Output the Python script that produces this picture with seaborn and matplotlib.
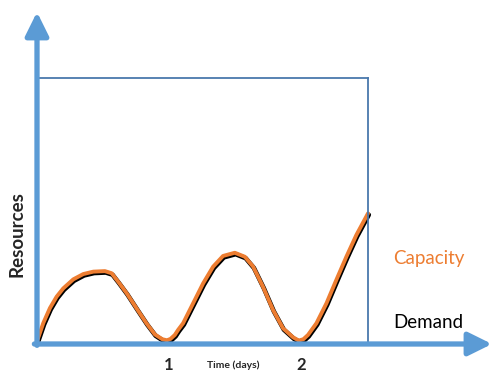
import numpy as np
import pandas as pd
import matplotlib
matplotlib.use('Agg')
import matplotlib.pyplot as plt
import matplotlib.transforms as mtransforms
import seaborn as sns

# data (time in days, resources in arbitrary units)
days = [0.0, 0.048, 0.098, 0.149, 0.199, 0.275, 0.351, 0.427, 0.515, 0.566,
        0.616, 0.680, 0.755, 0.830, 0.894, 0.950, 0.985, 1.012, 1.045, 1.070,
        1.108, 1.184, 1.260, 1.336, 1.411, 1.500, 1.576, 1.639, 1.714, 1.790,
        1.866, 1.942, 1.985, 2.020, 2.055, 2.119, 2.195, 2.270, 2.346, 2.422,
        2.510]
demand = [0.1, 0.79, 1.35, 1.78, 2.09, 2.43, 2.63, 2.72, 2.74, 2.66,
          2.34, 1.91, 1.34, 0.78, 0.36, 0.18, 0.14, 0.19, 0.34, 0.53,
          0.78, 1.53, 2.28, 2.91, 3.31, 3.43, 3.28, 2.91, 2.15, 1.28,
          0.59, 0.25, 0.13, 0.18, 0.34, 0.78, 1.53, 2.41, 3.28, 4.10,
          4.91]
capacity = demand
tick_pos = [1, 2]
tick_labels = ['1', '2']

df = pd.DataFrame({'days': days, 'demand': demand, 'capacity': capacity})

sns.set_style('white')
plt.rcParams['font.family'] = ['Lato', 'DejaVu Sans']

fig = plt.figure(figsize=(4.93, 3.74), dpi=100)
ax = fig.add_axes([37 / 493, 30 / 374, 331 / 493, 266 / 374])

frame_col = '#4a78ad'
axis_col = '#5b9bd5'

# demand (black) slightly below, capacity (orange) on top
down = mtransforms.offset_copy(ax.transData, fig=fig, x=0.8, y=-1.4, units='dots')
sns.lineplot(data=df, x='days', y='demand', ax=ax, color='black', lw=3.3,
             sort=False, clip_on=False, transform=down,
             solid_joinstyle='round', solid_capstyle='round')
sns.lineplot(data=df, x='days', y='capacity', ax=ax, color='#ed7d31', lw=2.8,
             sort=False, clip_on=False,
             solid_joinstyle='round', solid_capstyle='round')

ax.set_xlim(0, 2.51)
ax.set_ylim(0, 10)

for s in ['left', 'bottom']:
    ax.spines[s].set_visible(False)
for s in ['top', 'right']:
    ax.spines[s].set_color(frame_col)
    ax.spines[s].set_linewidth(1.3)

# axis arrows
arrow = dict(arrowstyle='-|>,head_length=0.95,head_width=0.47', color=axis_col,
             lw=3.8, mutation_scale=15, shrinkA=0, shrinkB=0)
ax.annotate('', xy=(0, 12.48), xytext=(0, -0.05), arrowprops=arrow,
            annotation_clip=False)
ax.annotate('', xy=(3.45, 0), xytext=(-0.02, 0), arrowprops=arrow,
            annotation_clip=False)

ax.set_xticks(tick_pos)
ax.set_xticklabels(tick_labels, fontsize=12, fontweight='bold')
ax.set_yticks([])
ax.tick_params(axis='x', length=0, pad=9)

ax.set_xlabel('Time (days)', fontsize=7.5, fontweight='bold')
ax.xaxis.set_label_coords(0.592, -0.062)
ax.set_ylabel('Resources', fontsize=13.5, fontweight='bold')
ax.yaxis.set_label_coords(-0.035, 0.414)

ax.text(2.70, 3.23, 'Capacity', color='#ed7d31', fontsize=13.5,
        va='center', ha='left', clip_on=False)
ax.text(2.70, 0.79, 'Demand', color='black', fontsize=13.5,
        va='center', ha='left', clip_on=False)

plt.savefig('out.png', dpi=100)
